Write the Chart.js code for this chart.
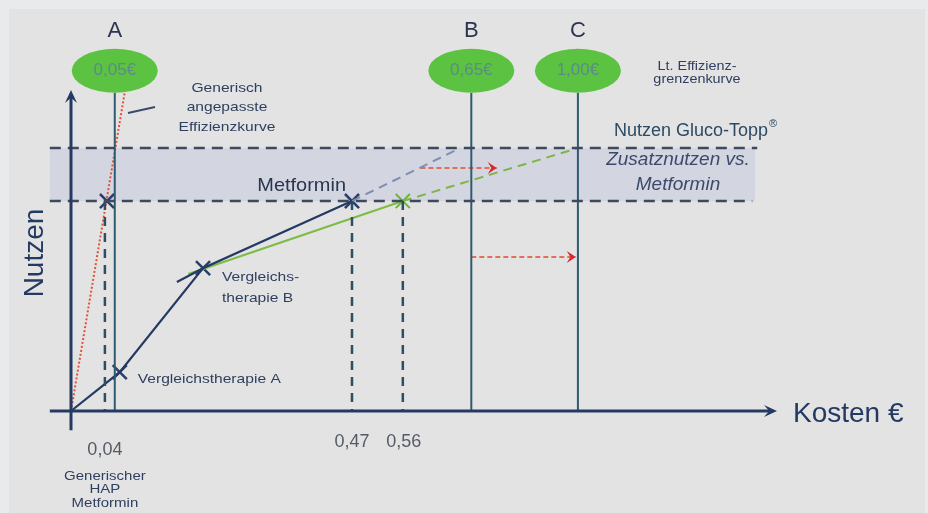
<!DOCTYPE html>
<html>
<head>
<meta charset="utf-8">
<script src="https://cdn.jsdelivr.net/npm/chart.js@4/dist/chart.umd.min.js"></script>
<style>
  html, body { margin: 0; padding: 0; background: #e8e9eb; }
  canvas { display: block; }
</style>
</head>
<body>
<canvas id="chart" width="928" height="513"></canvas>
<script>
// ------------------------------------------
// DATA (schematic units: Kosten 0..100, Nutzen 0..100)
// ------------------------------------------
const thresholdNames = ['A', 'B', 'C'];
const thresholdPrices = ['0,05€', '0,65€', '1,00€'];
const thresholdCost = [6.2, 56.7, 71.8];

const tickLabels = ['0,04', '0,47', '0,56'];
const tickCost = [4.8, 39.8, 47.0];

const benefitGluco = 81.9;
const benefitMetformin = 65.4;

// efficiency frontier: origin, Vergleichstherapie A, B, Metformin
const frontierCost = [0, 6.9, 18.7, 39.8];
const frontierBenefit = [0, 12.1, 44.5, 65.4];

// extension of the B-Metformin segment and its dashed continuation
const frontierExtCost = [15.0, 18.7];
const frontierExtBenefit = [40.2, 44.5];
const metformDashCost = [39.8, 55.1];
const metformDashBenefit = [65.4, 81.9];

// Gluco-Topp line (green)
const greenCost = [16.6, 47.0];
const greenBenefit = [42.7, 65.4];
const greenDashCost = [47.0, 71.8];
const greenDashBenefit = [65.4, 81.9];

// generic adapted efficiency curve (red dotted)
const genericCost = [0, 7.6];
const genericBenefit = [0, 99.1];
const genericCross = { x: 5.1, y: 65.4 };

// red shift arrows
const arrowFrom = [49.5, 56.7];
const arrowTo = [60.3, 71.5];
const arrowBenefit = [75.7, 48.0];

// ------------------------------------------
const NAVY = '#243a62';
const TEAL = '#2f5b70';

function pts(xs, ys) {
    return xs.map((x, i) => ({ x: x, y: ys[i] }));
}

function lineSet(data, color, width, dash) {
    return {
        type: 'line',
        data: data,
        borderColor: color,
        borderWidth: width,
        borderDash: dash || [],
        pointRadius: 0,
        fill: false,
        tension: 0,
        clip: false
    };
}

let datasets = [];

// axes
datasets.push(lineSet(pts([-3, 99], [0, 0]), NAVY, 3));
datasets.push(lineSet(pts([0, 0], [-6, 98]), NAVY, 3));

// benefit levels
datasets.push(lineSet(pts([-3, 97.2], [benefitGluco, benefitGluco]), '#3d4a5e', 2.5, [11, 7]));
datasets.push(lineSet(pts([-3, 96.5], [benefitMetformin, benefitMetformin]), '#3d4a5e', 2.5, [11, 7]));

// threshold verticals
thresholdCost.forEach(c => {
    datasets.push(lineSet(pts([c, c], [99.1, 0]), TEAL, 2));
});

// cost drop lines
tickCost.forEach(c => {
    datasets.push(lineSet(pts([c, c], [benefitMetformin, 0]), '#2e4f63', 2.5, [9, 7]));
});

datasets.push(lineSet(pts(genericCost, genericBenefit), '#df5338', 2, [2, 2]));
datasets.push(lineSet(pts(frontierCost, frontierBenefit), NAVY, 2.2));
datasets.push(lineSet(pts(frontierExtCost, frontierExtBenefit), NAVY, 2.2));
datasets.push(lineSet(pts(metformDashCost, metformDashBenefit), '#7f8db5', 2, [9, 6]));
datasets.push(lineSet(pts(greenCost, greenBenefit), '#7cbc45', 2));
datasets.push(lineSet(pts(greenDashCost, greenDashBenefit), '#7fb548', 2, [9, 6]));

arrowFrom.forEach((f, i) => {
    datasets.push(lineSet(pts([f, arrowTo[i]], [arrowBenefit[i], arrowBenefit[i]]), '#e0705c', 2, [5, 3]));
});

// crosses
datasets.push({
    type: 'scatter',
    data: [genericCross].concat(pts(frontierCost.slice(1), frontierBenefit.slice(1))),
    pointStyle: 'crossRot',
    pointRadius: 10,
    pointBorderWidth: 2.5,
    borderColor: '#2c3f6a',
    clip: false
});
datasets.push({
    type: 'scatter',
    data: [{ x: greenCost[1], y: greenBenefit[1] }],
    pointStyle: 'crossRot',
    pointRadius: 10,
    pointBorderWidth: 2,
    borderColor: '#6fb33e',
    clip: false
});

// ------------------------------------------
// DRAW HELPERS
// ------------------------------------------
const FONT = '"Liberation Sans", Arial, sans-serif';

function text(ctx, str, x, y, size, opts = {}) {
    ctx.save();
    ctx.font = (opts.italic ? 'italic ' : '') + size + 'px ' + FONT;
    ctx.fillStyle = opts.color || '#2f3f5f';
    ctx.textAlign = opts.align || 'center';
    ctx.textBaseline = 'middle';
    ctx.translate(x, y);
    if (opts.rotate) ctx.rotate(opts.rotate);
    ctx.scale(opts.sx || 1, 1);
    ctx.fillText(str, 0, 0);
    ctx.restore();
}

function arrowHead(ctx, x, y, dir, len, half, color) {
    ctx.save();
    ctx.fillStyle = color;
    ctx.translate(x, y);
    ctx.rotate(dir);
    ctx.beginPath();
    ctx.moveTo(0, 0);
    ctx.lineTo(-len, -half);
    ctx.lineTo(-len * 0.6, 0);
    ctx.lineTo(-len, half);
    ctx.closePath();
    ctx.fill();
    ctx.restore();
}

const diagramPlugin = {
    id: 'diagram',
    beforeDraw(chart) {
        const ctx = chart.ctx;
        ctx.save();
        ctx.fillStyle = '#e9eaec';
        ctx.fillRect(0, 0, chart.width, chart.height);
        ctx.fillStyle = '#e3e3e3';
        ctx.fillRect(9, 9, chart.width - 12, chart.height - 9);
        ctx.restore();
    },
    beforeDatasetsDraw(chart) {
        const ctx = chart.ctx;
        const xs = chart.scales.x, ys = chart.scales.y;
        // Zusatznutzen band
        const x0 = xs.getPixelForValue(-3), x1 = xs.getPixelForValue(96.9);
        const y0 = ys.getPixelForValue(benefitGluco), y1 = ys.getPixelForValue(benefitMetformin);
        ctx.save();
        ctx.fillStyle = '#d3d6e0';
        ctx.fillRect(x0, y0, x1 - x0, y1 - y0);
        ctx.restore();
    },
    afterDatasetsDraw(chart) {
        const ctx = chart.ctx;
        const xs = chart.scales.x, ys = chart.scales.y;
        const px = v => xs.getPixelForValue(v);
        const py = v => ys.getPixelForValue(v);

        // axis arrow heads
        arrowHead(ctx, px(100), py(0), 0, 13, 6, NAVY);
        arrowHead(ctx, px(100 - 100), py(100), -Math.PI / 2, 13, 6, NAVY);

        // red arrow heads
        arrowTo.forEach((t, i) => {
            arrowHead(ctx, px(t), py(arrowBenefit[i]), 0, 9, 6, '#d9282a');
        });

        // threshold ellipses and letters
        const topY = py(106);
        thresholdCost.forEach((c, i) => {
            const cx = px(c);
            ctx.save();
            ctx.fillStyle = '#5cc242';
            ctx.beginPath();
            ctx.ellipse(cx, topY, 43, 22, 0, 0, Math.PI * 2);
            ctx.fill();
            ctx.restore();
            text(ctx, thresholdPrices[i], cx, topY, 17, { color: '#5a8c88' });
            text(ctx, thresholdNames[i], cx, 31, 22, { color: '#2a3550' });
        });

        // pointer to generic curve
        ctx.save();
        ctx.strokeStyle = '#3b4a6b';
        ctx.lineWidth = 2;
        ctx.beginPath();
        ctx.moveTo(128, 113);
        ctx.lineTo(155, 107);
        ctx.stroke();
        ctx.restore();

        text(ctx, 'Generisch', 227, 88, 13, { sx: 1.2 });
        text(ctx, 'angepasste', 227, 107, 13, { sx: 1.2 });
        text(ctx, 'Effizienzkurve', 227, 127, 13, { sx: 1.2 });

        text(ctx, 'Lt. Effizienz-', 697, 67, 12, { sx: 1.2 });
        text(ctx, 'grenzenkurve', 697, 80, 12, { sx: 1.2 });

        text(ctx, 'Nutzen Gluco-Topp', 614, 131, 18, { align: 'left', color: '#2c4a63' });
        ctx.save();
        ctx.font = '18px ' + FONT;
        const w = ctx.measureText('Nutzen Gluco-Topp').width;
        ctx.restore();
        text(ctx, '®', 614 + w + 1, 124, 11, { align: 'left', color: '#2c4a63' });

        text(ctx, 'Zusatznutzen vs.', 678, 160, 19, { italic: true, color: '#3b4a6b' });
        text(ctx, 'Metformin', 678, 185, 19, { italic: true, color: '#3b4a6b' });

        // point labels
        const met = { x: px(frontierCost[3]), y: py(frontierBenefit[3]) };
        text(ctx, 'Metformin', met.x - 6, met.y - 15, 19, { align: 'right', color: '#2a3550', sx: 1.05 });
        const vb = { x: px(frontierCost[2]), y: py(frontierBenefit[2]) };
        text(ctx, 'Vergleichs-', vb.x + 19, vb.y + 9, 13, { align: 'left', sx: 1.2 });
        text(ctx, 'therapie B', vb.x + 19, vb.y + 30, 13, { align: 'left', sx: 1.2 });
        const va = { x: px(frontierCost[1]), y: py(frontierBenefit[1]) };
        text(ctx, 'Vergleichstherapie A', va.x + 18, va.y + 7, 13, { align: 'left', sx: 1.2 });

        // tick labels
        text(ctx, tickLabels[0], px(tickCost[0]), 450, 18, { color: '#555b66' });
        text(ctx, tickLabels[1], px(tickCost[1]), 442, 18, { color: '#555b66' });
        text(ctx, tickLabels[2], px(tickCost[2]) + 1, 442, 18, { color: '#555b66' });

        text(ctx, 'Generischer', px(tickCost[0]), 477, 12, { sx: 1.25 });
        text(ctx, 'HAP', px(tickCost[0]), 490, 12, { sx: 1.25 });
        text(ctx, 'Metformin', px(tickCost[0]), 504, 12, { sx: 1.25 });

        // axis titles
        text(ctx, 'Nutzen', 35, 253, 28, { rotate: -Math.PI / 2, color: '#243a62' });
        text(ctx, 'Kosten €', 793, 414, 28, { align: 'left', color: '#243a62' });
    }
};

new Chart(document.getElementById('chart').getContext('2d'), {
    type: 'scatter',
    data: { datasets: datasets },
    options: {
        responsive: false,
        animation: false,
        events: [],
        layout: { padding: { left: 71, right: 151, top: 90, bottom: 102 } },
        scales: {
            x: { type: 'linear', min: 0, max: 100, display: false },
            y: { type: 'linear', min: 0, max: 100, display: false }
        },
        plugins: { legend: { display: false }, tooltip: { enabled: false } }
    },
    plugins: [diagramPlugin]
});
</script>
</body>
</html>
